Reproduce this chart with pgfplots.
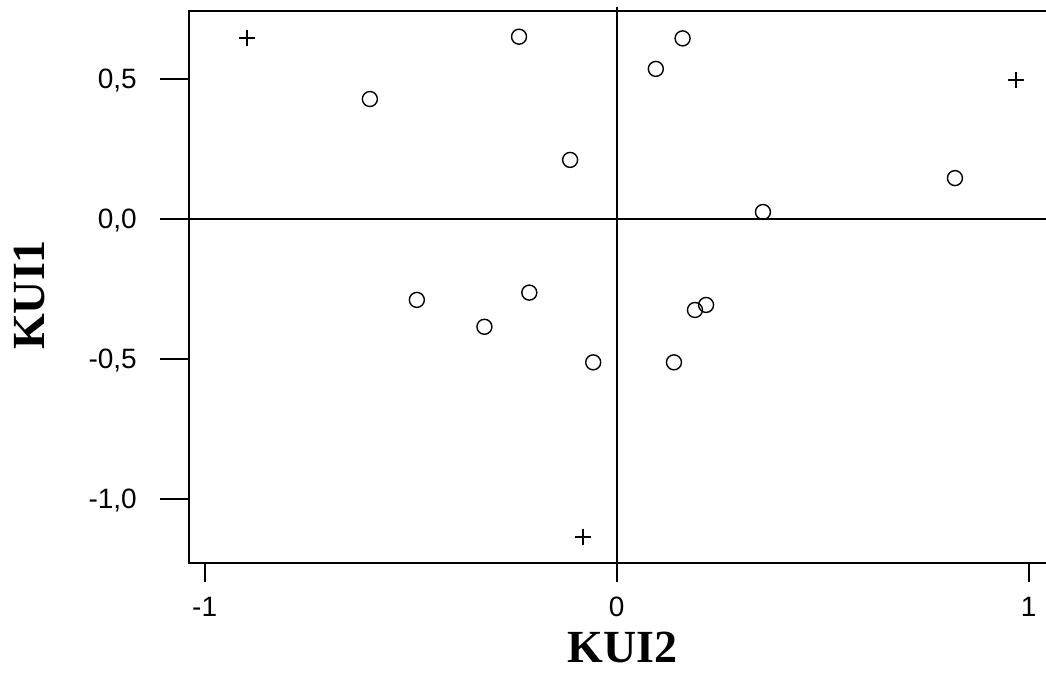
\documentclass[border=0pt]{standalone}
\usepackage{fontspec}
\setmainfont{Liberation Serif}
\newfontfamily\arial{Liberation Sans}
\usepackage{pgfplots}
\pgfplotsset{compat=1.18}
\usepackage{pgfplotstable}

\pgfplotstableread{
x y
-0.237 0.650
-0.599 0.4275
0.160 0.644
0.095 0.535
-0.113 0.210
-0.485 -0.290
-0.212 -0.264
-0.321 -0.386
-0.057 -0.513
0.139 -0.513
0.190 -0.326
0.217 -0.308
0.821 0.145
0.355 0.024
}\circdata

\pgfplotstableread{
x y
-0.897 0.645
0.969 0.495
-0.082 -1.137
}\plusdata

\begin{document}
\begin{tikzpicture}
\begin{axis}[
  scale only axis,
  width=857pt, height=552pt,
  xmin=-1.038, xmax=1.042,
  ymin=-1.2296, ymax=0.7418,
  clip=false,
  axis line style={draw=none},
  tick style={draw=none},
  major tick length=0pt,
  xtick={-1,0,1},
  xticklabels={-1,0,1},
  ytick={-1,-0.5,0,0.5},
  yticklabels={{-1,0},{-0,5},{0,0},{0,5}},
  xticklabel style={font=\arial\fontsize{28}{32}\selectfont, anchor=north, inner sep=0pt, yshift=-34pt},
  yticklabel style={font=\arial\fontsize{28}{32}\selectfont, anchor=base east, inner sep=0pt, xshift=-52pt, yshift=-10pt},
  xlabel={\bfseries KUI2},
  ylabel={\bfseries KUI1},
  every axis x label/.style={at={(axis description cs:0.5,0)}, anchor=center, yshift=-84pt, xshift=5pt, font=\fontsize{46}{50}\selectfont},
  every axis y label/.style={at={(axis description cs:0,0.5)}, anchor=center, rotate=90, yshift=159pt, xshift=-8pt, font=\fontsize{46}{50}\selectfont},
]
\addplot[only marks, mark=o, mark size=7.5pt, mark options={line width=1.4pt, black}] table[x=x,y=y] {\circdata};
\addplot[only marks, mark=+, mark size=8pt, mark options={line width=1.6pt, black}] table[x=x,y=y] {\plusdata};

\coordinate (sw) at (rel axis cs:0,0);
\coordinate (nw) at (rel axis cs:0,1);
\coordinate (ne) at (rel axis cs:1,1);
\coordinate (se) at (rel axis cs:1,0);
\coordinate (zt) at (axis cs:0,0.7418);
\coordinate (zb) at (axis cs:0,-1.2296);
\coordinate (hl) at (axis cs:-1.038,0);
\coordinate (hr) at (axis cs:1.042,0);
\coordinate (xa) at (axis cs:-1,-1.2296);
\coordinate (xb) at (axis cs:1,-1.2296);
\coordinate (ya) at (axis cs:-1.038,-1);
\coordinate (yb) at (axis cs:-1.038,-0.5);
\coordinate (yc) at (axis cs:-1.038,0.5);
\end{axis}
\begin{scope}[line width=2.2pt]
\draw[line cap=rect] (se) -- (sw) -- (nw) -- (ne);
\draw (hl) -- (hr);
\draw ([yshift=4pt]zt) -- ([yshift=-19pt]zb);
\draw (xa) -- ++(0,-19pt);
\draw (xb) -- ++(0,-19pt);
\draw (ya) -- ++(-29pt,0);
\draw (yb) -- ++(-29pt,0);
\draw (hl) -- ++(-29pt,0);
\draw (yc) -- ++(-29pt,0);
\end{scope}
\pgfresetboundingbox
\path ([shift={(-189pt,-110pt)}]sw) rectangle ([shift={(0pt,11pt)}]ne);
\end{tikzpicture}
\end{document}
